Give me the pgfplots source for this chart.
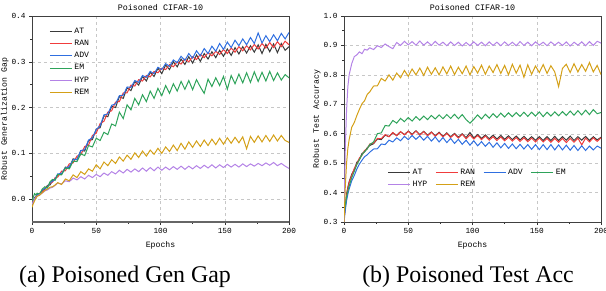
\documentclass[border=0pt]{standalone}
\usepackage{fontspec}
\setmainfont{Liberation Serif}
\setmonofont{Liberation Mono}
\usepackage{pgfplots}
\usepackage{pgfplotstable}
\pgfplotsset{compat=1.18}
\definecolor{cAT}{HTML}{3A3A3A}
\definecolor{cRAN}{HTML}{F03C3C}
\definecolor{cADV}{HTML}{2F6FE0}
\definecolor{cEM}{HTML}{2EA35A}
\definecolor{cHYP}{HTML}{B483E6}
\definecolor{cREM}{HTML}{D4A017}
\pgfplotstableread{
x AT RAN ADV EM HYP REM
0 -0.012 -0.008 -0.010 -0.005 -0.012 -0.018
1 -0.004 -0.002 -0.006 0.004 -0.006 -0.010
2 0.003 0.001 0.002 0.012 0.000 -0.004
3 0.002 0.006 0.004 0.009 0.003 0.002
4 0.010 0.007 0.009 0.013 0.006 0.006
6 0.009 0.013 0.011 0.011 0.010 0.009
8 0.019 0.016 0.020 0.022 0.013 0.014
10 0.021 0.024 0.023 0.027 0.018 0.019
12 0.030 0.027 0.026 0.024 0.020 0.022
14 0.031 0.035 0.036 0.038 0.024 0.026
16 0.040 0.037 0.039 0.043 0.026 0.027
18 0.043 0.047 0.044 0.041 0.030 0.031
20 0.053 0.048 0.055 0.054 0.035 0.036
23 0.054 0.061 0.056 0.053 0.033 0.032
26 0.070 0.062 0.068 0.068 0.040 0.044
29 0.068 0.077 0.071 0.066 0.038 0.040
32 0.088 0.079 0.086 0.083 0.046 0.053
35 0.086 0.094 0.087 0.082 0.042 0.047
38 0.106 0.097 0.106 0.099 0.049 0.060
41 0.105 0.115 0.108 0.095 0.044 0.054
44 0.128 0.118 0.129 0.117 0.052 0.066
47 0.130 0.139 0.134 0.114 0.047 0.061
50 0.153 0.144 0.152 0.133 0.054 0.075
53 0.156 0.165 0.160 0.128 0.049 0.066
56 0.182 0.170 0.184 0.146 0.057 0.081
59 0.180 0.190 0.186 0.141 0.052 0.073
62 0.203 0.193 0.205 0.164 0.060 0.086
65 0.200 0.212 0.208 0.160 0.055 0.078
68 0.224 0.213 0.226 0.190 0.063 0.092
71 0.220 0.232 0.227 0.176 0.057 0.083
74 0.243 0.232 0.245 0.206 0.065 0.096
77 0.237 0.249 0.244 0.195 0.059 0.087
80 0.257 0.247 0.259 0.220 0.066 0.101
83 0.249 0.261 0.255 0.206 0.060 0.091
86 0.268 0.258 0.270 0.228 0.068 0.105
89 0.258 0.270 0.266 0.213 0.061 0.094
92 0.277 0.267 0.279 0.236 0.069 0.107
95 0.268 0.279 0.274 0.220 0.062 0.098
98 0.286 0.276 0.288 0.242 0.070 0.111
101 0.274 0.286 0.283 0.226 0.063 0.100
104 0.293 0.283 0.296 0.248 0.070 0.114
107 0.283 0.294 0.290 0.231 0.064 0.104
110 0.300 0.289 0.304 0.252 0.071 0.118
113 0.289 0.300 0.298 0.236 0.065 0.106
116 0.306 0.295 0.312 0.257 0.072 0.122
119 0.294 0.306 0.303 0.240 0.065 0.109
122 0.311 0.300 0.318 0.259 0.072 0.125
125 0.297 0.311 0.308 0.239 0.066 0.113
128 0.315 0.305 0.324 0.261 0.073 0.127
131 0.301 0.316 0.313 0.245 0.067 0.115
134 0.318 0.309 0.329 0.231 0.074 0.129
137 0.306 0.320 0.318 0.262 0.068 0.117
140 0.322 0.313 0.334 0.246 0.075 0.131
143 0.309 0.323 0.323 0.265 0.068 0.119
146 0.325 0.316 0.340 0.248 0.075 0.133
149 0.312 0.327 0.327 0.268 0.069 0.120
152 0.328 0.318 0.343 0.240 0.076 0.134
155 0.314 0.330 0.331 0.270 0.070 0.122
158 0.331 0.321 0.347 0.252 0.076 0.135
161 0.317 0.333 0.335 0.273 0.070 0.123
164 0.333 0.324 0.350 0.254 0.077 0.136
167 0.319 0.335 0.337 0.276 0.071 0.110
170 0.335 0.326 0.353 0.255 0.077 0.137
173 0.321 0.338 0.340 0.278 0.072 0.124
176 0.337 0.328 0.363 0.257 0.078 0.138
179 0.318 0.340 0.341 0.277 0.073 0.125
182 0.338 0.330 0.357 0.258 0.079 0.139
185 0.322 0.342 0.344 0.279 0.074 0.126
188 0.339 0.331 0.359 0.259 0.080 0.140
191 0.320 0.344 0.346 0.276 0.073 0.127
194 0.340 0.333 0.362 0.260 0.078 0.139
197 0.325 0.345 0.350 0.272 0.072 0.128
200 0.333 0.337 0.364 0.265 0.067 0.124
}\gapdata
\pgfplotstableread{
x AT RAN ADV EM HYP REM
0 0.310 0.305 0.300 0.320 0.300 0.300
1 0.355 0.350 0.340 0.360 0.550 0.420
2 0.395 0.390 0.372 0.385 0.680 0.500
3 0.418 0.415 0.395 0.405 0.760 0.550
4 0.437 0.434 0.412 0.422 0.800 0.580
6 0.462 0.458 0.440 0.450 0.838 0.622
8 0.478 0.482 0.458 0.472 0.862 0.638
10 0.503 0.497 0.480 0.495 0.868 0.662
12 0.512 0.518 0.497 0.512 0.878 0.683
14 0.533 0.527 0.510 0.528 0.872 0.702
16 0.538 0.543 0.522 0.540 0.887 0.712
18 0.552 0.548 0.528 0.548 0.884 0.733
20 0.560 0.565 0.537 0.563 0.892 0.742
23 0.566 0.568 0.548 0.572 0.886 0.762
26 0.582 0.584 0.549 0.600 0.899 0.763
29 0.580 0.583 0.565 0.603 0.893 0.788
32 0.595 0.597 0.563 0.628 0.905 0.779
35 0.590 0.590 0.578 0.626 0.896 0.800
38 0.603 0.604 0.572 0.645 0.889 0.782
41 0.594 0.593 0.586 0.636 0.910 0.806
44 0.607 0.607 0.576 0.652 0.900 0.790
47 0.597 0.596 0.591 0.641 0.914 0.815
50 0.609 0.608 0.580 0.655 0.902 0.795
53 0.598 0.596 0.594 0.643 0.913 0.820
56 0.610 0.609 0.581 0.658 0.901 0.800
59 0.597 0.595 0.593 0.646 0.915 0.823
62 0.608 0.607 0.578 0.660 0.901 0.798
65 0.595 0.593 0.591 0.648 0.912 0.826
68 0.606 0.605 0.575 0.662 0.900 0.802
71 0.593 0.591 0.589 0.650 0.914 0.824
74 0.605 0.603 0.572 0.664 0.901 0.800
77 0.591 0.589 0.587 0.651 0.911 0.827
80 0.603 0.601 0.570 0.665 0.899 0.803
83 0.590 0.587 0.584 0.652 0.912 0.830
86 0.601 0.599 0.567 0.666 0.900 0.801
89 0.588 0.585 0.581 0.651 0.911 0.826
92 0.600 0.598 0.564 0.665 0.898 0.804
95 0.587 0.583 0.578 0.648 0.910 0.830
98 0.604 0.596 0.561 0.636 0.899 0.800
101 0.586 0.582 0.576 0.649 0.912 0.828
104 0.597 0.594 0.559 0.664 0.900 0.806
107 0.584 0.580 0.573 0.650 0.911 0.833
110 0.596 0.592 0.557 0.666 0.899 0.802
113 0.583 0.578 0.571 0.653 0.912 0.830
116 0.595 0.590 0.554 0.668 0.900 0.808
119 0.582 0.577 0.569 0.655 0.911 0.835
122 0.594 0.589 0.552 0.670 0.899 0.805
125 0.581 0.576 0.567 0.657 0.912 0.832
128 0.593 0.588 0.550 0.671 0.900 0.800
131 0.580 0.575 0.565 0.658 0.911 0.836
134 0.592 0.587 0.549 0.672 0.899 0.806
137 0.579 0.574 0.564 0.659 0.913 0.833
140 0.591 0.586 0.548 0.673 0.900 0.792
143 0.578 0.573 0.563 0.659 0.911 0.834
146 0.590 0.585 0.547 0.673 0.899 0.802
149 0.578 0.572 0.563 0.660 0.912 0.830
152 0.590 0.585 0.546 0.674 0.901 0.808
155 0.577 0.572 0.563 0.658 0.911 0.835
158 0.590 0.584 0.546 0.673 0.899 0.805
161 0.577 0.571 0.563 0.660 0.912 0.831
164 0.591 0.584 0.545 0.674 0.901 0.810
167 0.577 0.571 0.562 0.661 0.911 0.760
170 0.590 0.584 0.545 0.675 0.900 0.822
173 0.578 0.570 0.561 0.662 0.912 0.836
176 0.592 0.584 0.544 0.677 0.898 0.808
179 0.577 0.571 0.560 0.663 0.911 0.838
182 0.590 0.585 0.543 0.678 0.901 0.810
185 0.578 0.562 0.559 0.664 0.912 0.835
188 0.591 0.585 0.543 0.680 0.899 0.812
191 0.577 0.572 0.558 0.665 0.913 0.842
194 0.590 0.586 0.545 0.682 0.900 0.810
197 0.579 0.574 0.558 0.668 0.914 0.832
200 0.588 0.586 0.551 0.672 0.908 0.801
}\accdata
\pgfplotsset{
  myaxis/.style={
    scale only axis, width=257bp, height=206bp,
    xmin=0, xmax=200, xtick={0,50,100,150,200}, minor x tick num=1,
    minor y tick num=1,
    tick align=outside, tick pos=left,
    major tick length=3pt, minor tick length=2pt,
    every tick/.style={black!80, line width=0.5pt},
    axis line style={black!75, line width=0.6pt},
    grid=major, major grid style={dashed, black!22, line width=0.4pt},
    /pgf/number format/assume math mode=true,
    ticklabel style={font=\ttfamily\fontsize{7.8}{9}\selectfont},
    yticklabel style={/pgf/number format/fixed, /pgf/number format/fixed zerofill, /pgf/number format/precision=1},
    label style={font=\ttfamily\fontsize{8.2}{9}\selectfont},
    every axis title/.style={at={(0.5,1)}, anchor=base, yshift=6pt, font=\ttfamily\fontsize{8.4}{9}\selectfont},
    xlabel={Epochs},
    xlabel style={yshift=-1pt},
    ylabel style={yshift=-4pt},
    legend cell align=left,
    legend style={draw=none, fill=none, font=\ttfamily\fontsize{8.2}{9}\selectfont},
    legend image post style={line width=1pt},
    every axis plot/.append style={line width=1pt},
  }
}
\begin{document}
\begin{tikzpicture}[x=1bp,y=1bp]
\useasboundingbox (0,0) rectangle (606,290);
\begin{axis}[myaxis, at={(32bp,68bp)}, anchor=south west,
  ymin=-0.05, ymax=0.4, ytick={0,0.1,0.2,0.3,0.4},
  ylabel={Robust Generalization Gap},
  title={Poisoned CIFAR-10},
  legend style={at={(0.055,0.96)}, anchor=north west, row sep=1.2pt},
  legend image code/.code={\draw[#1] (0cm,0cm) -- (0.78cm,0cm);},
]
\addplot[cAT] table[x=x,y=AT] {\gapdata};
\addlegendentry{AT}
\addplot[cRAN] table[x=x,y=RAN] {\gapdata};
\addlegendentry{RAN}
\addplot[cADV] table[x=x,y=ADV] {\gapdata};
\addlegendentry{ADV}
\addplot[cEM] table[x=x,y=EM] {\gapdata};
\addlegendentry{EM}
\addplot[cHYP] table[x=x,y=HYP] {\gapdata};
\addlegendentry{HYP}
\addplot[cREM] table[x=x,y=REM] {\gapdata};
\addlegendentry{REM}
\draw[black!60, line width=1.6pt] (rel axis cs:0,0) -- (rel axis cs:1,0);
\end{axis}
\begin{axis}[myaxis, at={(344bp,68bp)}, anchor=south west,
  ymin=0.3, ymax=1.0, ytick={0.3,0.4,0.5,0.6,0.7,0.8,0.9,1.0},
  ylabel={Robust Test Accuracy},
  title={Poisoned CIFAR-10},
  legend columns=4,
  legend style={at={(0.52,0.21)}, anchor=center, row sep=1pt, /tikz/every even column/.append style={column sep=6pt}},
  legend image code/.code={\draw[#1] (0cm,0cm) -- (0.78cm,0cm);},
]
\addplot[cAT] table[x=x,y=AT] {\accdata};
\addlegendentry{AT}
\addplot[cRAN] table[x=x,y=RAN] {\accdata};
\addlegendentry{RAN}
\addplot[cADV] table[x=x,y=ADV] {\accdata};
\addlegendentry{ADV}
\addplot[cEM] table[x=x,y=EM] {\accdata};
\addlegendentry{EM}
\addplot[cHYP] table[x=x,y=HYP] {\accdata};
\addlegendentry{HYP}
\addplot[cREM] table[x=x,y=REM] {\accdata};
\addlegendentry{REM}
\end{axis}
\node[anchor=base, font=\fontsize{24}{27}\selectfont] at (125,8) {(a) Poisoned Gen Gap};
\node[anchor=base, font=\fontsize{24}{27}\selectfont] at (468,8) {(b) Poisoned Test Acc};
\end{tikzpicture}
\end{document}
